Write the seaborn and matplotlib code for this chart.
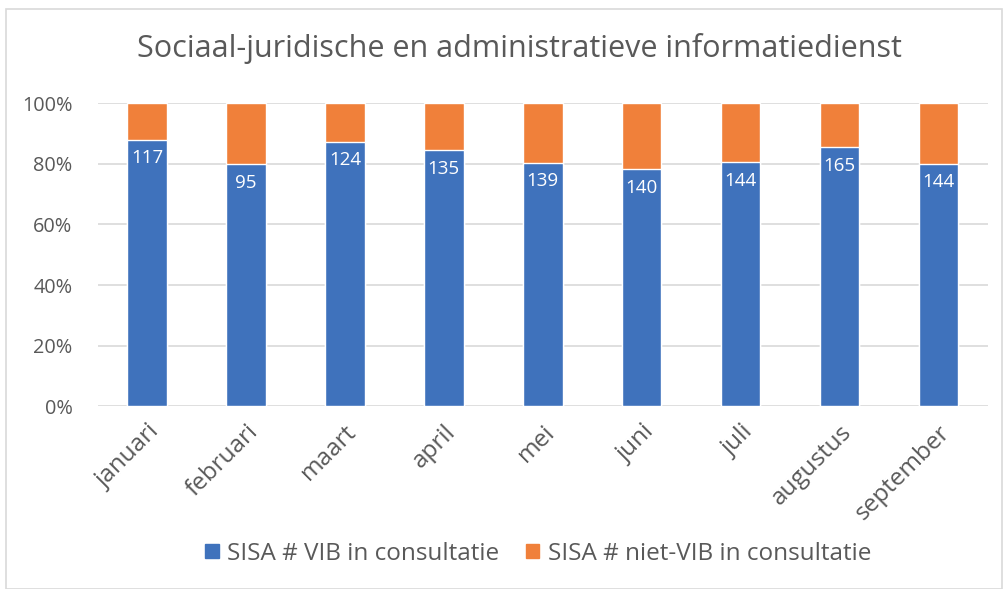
import matplotlib
matplotlib.use("Agg")
import matplotlib.pyplot as plt
import seaborn as sns
import pandas as pd
import numpy as np
from matplotlib.patches import Rectangle, Patch
from matplotlib.ticker import FuncFormatter

months = ["januari", "februari", "maart", "april", "mei", "juni", "juli", "augustus", "september"]
vib = [117, 95, 124, 135, 139, 140, 144, 165, 144]
niet_vib = [16, 24, 18, 25, 34, 39, 35, 28, 36]
series_names = ["SISA # VIB in consultatie", "SISA # niet-VIB in consultatie"]

blue = "#3F72BC"
orange = "#F0803A"
text_col = "#595959"
grid_col = "#D9D9D9"

vib_arr = np.array(vib, dtype=float)
niet_arr = np.array(niet_vib, dtype=float)
total = vib_arr + niet_arr
df = pd.DataFrame({
    "maand": months,
    "vib_pct": vib_arr / total * 100,
    "tot_pct": (vib_arr + niet_arr) / total * 100,
})

sns.set_theme(style="white")
plt.rcParams["font.family"] = ["Open Sans", "DejaVu Sans"]

fig = plt.figure(figsize=(10.06, 5.89), dpi=100)
ax = fig.add_axes([0.097, 0.31, 0.885, 0.515])

sns.barplot(data=df, x="maand", y="tot_pct", color=orange, width=0.4, ax=ax,
            saturation=1, zorder=3)
sns.barplot(data=df, x="maand", y="vib_pct", color=blue, width=0.4, ax=ax,
            saturation=1, zorder=4)

for i, (p, v) in enumerate(zip(df["vib_pct"], vib)):
    ax.text(i, p - 3.2, str(v), ha="center", va="top", color="white",
            fontsize=13.5, zorder=5)

ax.set_ylim(0, 100)
ax.set_xlim(-0.5, len(months) - 0.5)
ax.set_yticks(np.arange(0, 101, 20))
ax.yaxis.set_major_formatter(FuncFormatter(lambda v, _: f"{int(v)}%"))
ax.grid(axis="y", color=grid_col, linewidth=1.2, zorder=0)
ax.set_axisbelow(True)
for s in ax.spines.values():
    s.set_visible(False)
ax.set_xlabel("")
ax.set_ylabel("")
ax.tick_params(axis="y", labelsize=14.3, labelcolor=text_col, length=0, pad=18)
ax.tick_params(axis="x", labelsize=17.5, labelcolor=text_col, length=0, pad=10)
for lab in ax.get_xticklabels():
    lab.set_rotation(45)
    lab.set_ha("right")
    lab.set_rotation_mode("anchor")

fig.text(0.516, 0.918, "Sociaal-juridische en administratieve informatiedienst",
         ha="center", va="center", fontsize=22, color=text_col)

handles = [Patch(facecolor=blue, edgecolor=blue), Patch(facecolor=orange, edgecolor=orange)]
fig.legend(handles, series_names, loc="center", bbox_to_anchor=(0.535, 0.06), ncol=2,
           frameon=False, fontsize=17.5, labelcolor=text_col, handlelength=0.55,
           handleheight=0.55, handletextpad=0.35, columnspacing=1.1)

fig.patches.append(Rectangle((0.006, 0.0), 0.99, 0.985, transform=fig.transFigure,
                             fill=False, edgecolor=grid_col, linewidth=1.2))

fig.savefig("out.png", dpi=100)
